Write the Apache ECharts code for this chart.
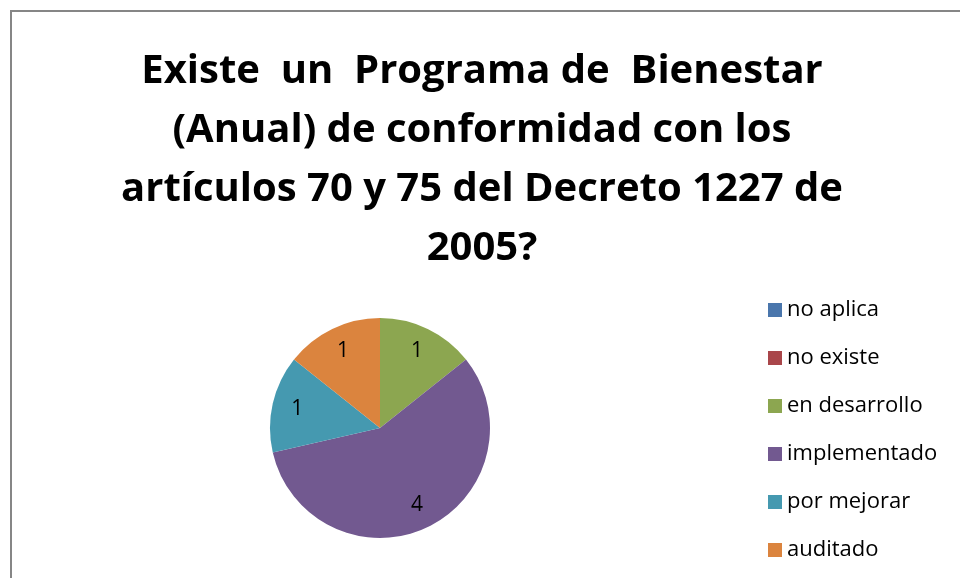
<!DOCTYPE html>
<html>
<head>
<meta charset="utf-8">
<script src="https://cdn.jsdelivr.net/npm/echarts@6/dist/echarts.min.js"></script>
<style>
  html, body { margin: 0; padding: 0; background: #fff; }
  #main { width: 960px; height: 578px; }
</style>
</head>
<body>
<div id="main"></div>
<script>
var categories = ['no aplica', 'no existe', 'en desarrollo', 'implementado', 'por mejorar', 'auditado'];
var values = [0, 0, 1, 4, 1, 1];
var colors = ['#4A76AC', '#A9464A', '#8CA650', '#725990', '#4599B0', '#DB843E'];
var titleText = 'Existe  un  Programa de  Bienestar\n(Anual) de conformidad con los\nartículos 70 y 75 del Decreto 1227 de\n2005?';

var pieData = categories.map(function (c, i) {
    return { name: c, value: values[i], itemStyle: { color: colors[i] } };
});
// invisible ring only used to place the value labels further out
var labelData = categories.map(function (c, i) {
    return { name: c, value: values[i], itemStyle: { color: 'rgba(0,0,0,0)' } };
});

var myChart = echarts.init(document.getElementById('main'));
var option = {
    animation: false,
    title: {
        text: titleText,
        left: 477,
        top: 37,
        textAlign: 'center',
        textStyle: {
            fontFamily: 'Open Sans',
            fontWeight: 'bold',
            fontSize: 40,
            lineHeight: 59,
            color: '#000'
        }
    },
    legend: {
        orient: 'vertical',
        left: 763,
        top: 294,
        itemWidth: 14,
        itemHeight: 14,
        itemGap: 26,
        icon: 'rect',
        data: categories,
        textStyle: { fontFamily: 'Open Sans', fontSize: 22, color: '#000' }
    },
    graphic: [{
        type: 'rect',
        shape: { x: 11, y: 11, width: 1000, height: 700 },
        style: { fill: 'none', stroke: '#868686', lineWidth: 2 },
        silent: true
    }],
    series: [{
        type: 'pie',
        center: [380, 428],
        radius: 110,
        data: pieData,
        label: { show: false },
        labelLine: { show: false },
        emphasis: { disabled: true }
    }, {
        type: 'pie',
        center: [380, 428],
        radius: [52, 112],
        data: labelData,
        silent: true,
        label: {
            show: true,
            position: 'inside',
            fontFamily: 'Open Sans',
            fontSize: 21,
            color: '#000',
            formatter: function (p) { return p.value ? String(p.value) : ''; }
        },
        labelLine: { show: false }
    }]
};
myChart.setOption(option);
</script>
</body>
</html>
